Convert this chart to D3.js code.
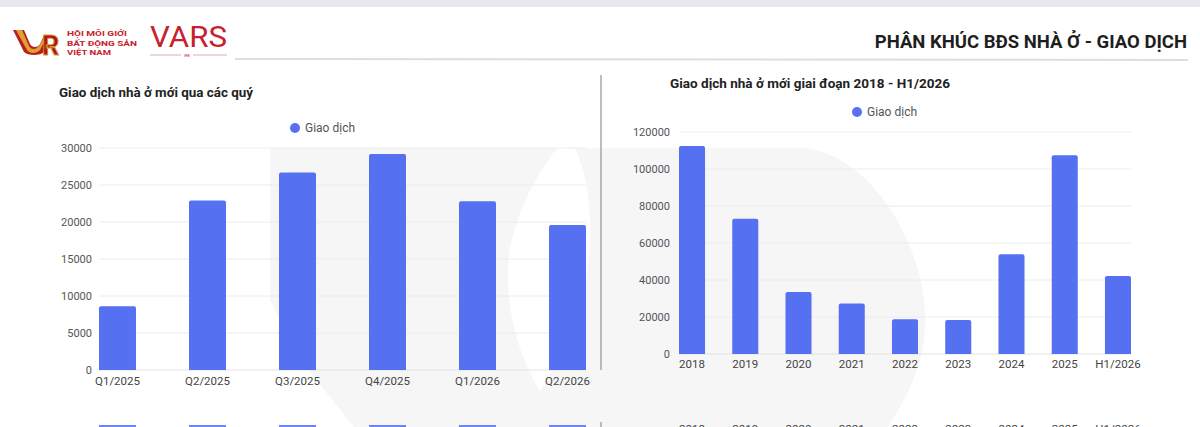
<!DOCTYPE html>
<html lang="vi">
  <head>
    <meta charset="utf-8" />
    <title>Phân khúc BĐS nhà ở - Giao dịch</title>
    <script src="https://d3js.org/d3.v7.min.js"></script>
    <style>
      body {
        margin: 0;
        background: #fff;
      }
      svg {
        display: block;
        font-family: Roboto, "Noto Sans", sans-serif;
      }
      .tick-label {
        font-size: 11px;
        fill: #555;
      }
      .cat-label {
        font-size: 11.5px;
        fill: #444;
      }
      .chart-title {
        font-size: 13px;
        font-weight: bold;
        fill: #222;
      }
      .legend-text {
        font-size: 12px;
        fill: #555;
      }
    </style>
  </head>
  <body>
    <svg width="1200" height="427"></svg>
    <script>
      // quarterly new-home transactions
      const quarters = ["Q1/2025", "Q2/2025", "Q3/2025", "Q4/2025", "Q1/2026", "Q2/2026"];
      const quarterValues = [8600, 22900, 26700, 29200, 22800, 19600];
      const quarterTicks = [0, 5000, 10000, 15000, 20000, 25000, 30000];

      // yearly new-home transactions
      const years = ["2018", "2019", "2020", "2021", "2022", "2023", "2024", "2025", "H1/2026"];
      const yearValues = [112500, 73100, 33500, 27300, 18800, 18400, 53900, 107500, 42200];
      const yearTicks = [0, 20000, 40000, 60000, 80000, 100000, 120000];

      const seriesName = "Giao dịch";
      const barColor = "#5670f2";

      const svg = d3.select("svg");

      // faint watermark in the background
      svg
        .append("path")
        .attr(
          "d",
          "M270,148 L800,148 C870,150 930,250 925,330 C922,370 905,400 888,427 L354,427 L300,360 L270,300 Z"
        )
        .attr("fill", "#f6f6f7");
      svg
        .append("path")
        .attr("d", "M557,148 C525,190 505,240 508,285 C510,330 525,365 540,392 C560,360 585,300 590,250 C592,200 585,170 575,148 Z")
        .attr("fill", "#ffffff");

      // top strip
      svg.append("rect").attr("x", 0).attr("y", 0).attr("width", 1200).attr("height", 7).attr("fill", "#e8e8ec");

      // logo
      const logo = svg.append("g");
      logo
        .append("path")
        .attr("d", "M13,30 L24,30 L30,44 C32,48 38,48 40,44 L44,36 L44,52 C40,56 28,56 24,52 Z")
        .attr("fill", "#b8201f");
      logo
        .append("path")
        .attr("d", "M16,30 L22,30 L29,46 C31,50 36,50 39,46 L44,38 L44,42 L40,50 C36,54 30,54 27,50 Z")
        .attr("fill", "#e0a030");
      logo
        .append("text")
        .attr("x", 42)
        .attr("y", 55)
        .text("R")
        .attr("font-size", "27px")
        .attr("font-weight", "bold")
        .attr("fill", "#a8181c")
        .attr("stroke", "#d89a2a")
        .attr("stroke-width", 0.8);
      const assocLines = [
        ["HỘI MÔI GIỚI", 60],
        ["BẤT ĐỘNG SẢN", 70],
        ["VIỆT NAM", 44],
      ];
      assocLines.forEach(([t, w], i) => {
        logo
          .append("text")
          .attr("x", 67)
          .attr("y", 36 + i * 9.5)
          .text(t)
          .attr("font-size", "7.5px")
          .attr("font-weight", "bold")
          .attr("textLength", w)
          .attr("lengthAdjust", "spacingAndGlyphs")
          .attr("fill", "#c4222c");
      });
      logo
        .append("text")
        .attr("x", 150)
        .attr("y", 47)
        .text("VARS")
        .attr("font-size", "29px")
        .attr("textLength", 77)
        .attr("lengthAdjust", "spacingAndGlyphs")
        .attr("fill", "#c8202f");
      logo.append("line").attr("x1", 150).attr("x2", 181).attr("y1", 55).attr("y2", 55).attr("stroke", "#c8a0a0").attr("stroke-width", 0.8);
      logo.append("line").attr("x1", 193).attr("x2", 227).attr("y1", 55).attr("y2", 55).attr("stroke", "#c8a0a0").attr("stroke-width", 0.8);
      logo
        .append("text")
        .attr("x", 187)
        .attr("y", 57)
        .attr("text-anchor", "middle")
        .text("IRE")
        .attr("font-size", "4px")
        .attr("fill", "#c8202f");

      // header title and rule
      svg
        .append("text")
        .attr("x", 1187)
        .attr("y", 48)
        .attr("text-anchor", "end")
        .text("PHÂN KHÚC BĐS NHÀ Ở - GIAO DỊCH")
        .attr("font-size", "18.5px")
        .attr("font-weight", "bold")
        .attr("fill", "#1e1e1e");
      svg
        .append("line")
        .attr("x1", 235)
        .attr("x2", 1188)
        .attr("y1", 59)
        .attr("y2", 60)
        .attr("stroke", "#dedede")
        .attr("stroke-width", 2);

      // divider between the two charts
      svg.append("line").attr("x1", 601).attr("x2", 601).attr("y1", 75).attr("y2", 370).attr("stroke", "#9a9a9a").attr("stroke-width", 1.3);
      svg.append("line").attr("x1", 601).attr("x2", 601).attr("y1", 422).attr("y2", 427).attr("stroke", "#9a9a9a").attr("stroke-width", 1.3);

      function barPath(x, y, w, h, r) {
        return `M${x},${y + h} V${y + r} Q${x},${y} ${x + r},${y} H${x + w - r} Q${x + w},${y} ${x + w},${y + r} V${y + h} Z`;
      }

      function drawChart(opts) {
        const g = svg.append("g");
        const x = d3.scaleBand().domain(opts.cats).range(opts.xRange).paddingInner(opts.padIn).paddingOuter(0);
        const y = d3.scaleLinear().domain([0, d3.max(opts.ticks)]).range(opts.yRange);

        // gridlines
        g.append("g")
          .selectAll("line")
          .data(opts.ticks)
          .join("line")
          .attr("x1", opts.xRange[0])
          .attr("x2", opts.xRange[1])
          .attr("y1", (d) => y(d))
          .attr("y2", (d) => y(d))
          .attr("stroke", (d) => (d === 0 ? "#e2e2e2" : "#ececec"))
          .attr("stroke-width", 1);

        // y tick labels
        g.append("g")
          .selectAll("text")
          .data(opts.ticks)
          .join("text")
          .attr("class", "tick-label")
          .attr("x", opts.labelX)
          .attr("y", (d) => y(d) + 4)
          .attr("text-anchor", "end")
          .text((d) => d);

        // bars
        g.append("g")
          .selectAll("path")
          .data(opts.values)
          .join("path")
          .attr("d", (d, i) => barPath(x(opts.cats[i]), y(d), x.bandwidth(), y(0) - y(d), 2))
          .attr("fill", barColor);

        // category labels
        g.append("g")
          .selectAll("text")
          .data(opts.cats)
          .join("text")
          .attr("class", "cat-label")
          .attr("x", (d) => x(d) + x.bandwidth() / 2)
          .attr("y", y(0) + opts.catDy)
          .attr("text-anchor", "middle")
          .text((d) => d);

        // title
        g.append("text")
          .attr("class", "chart-title")
          .attr("x", opts.titleX)
          .attr("y", opts.titleY)
          .attr("textLength", opts.titleW)
          .attr("lengthAdjust", "spacingAndGlyphs")
          .text(opts.title);

        // legend
        g.append("circle").attr("cx", opts.legendX).attr("cy", opts.legendY).attr("r", 5).attr("fill", barColor);
        g.append("text")
          .attr("class", "legend-text")
          .attr("x", opts.legendX + 10)
          .attr("y", opts.legendY + 4)
          .text(seriesName);

        return x;
      }

      const xq = drawChart({
        cats: quarters,
        values: quarterValues,
        ticks: quarterTicks,
        xRange: [99, 586],
        padIn: 0.589,
        yRange: [370, 148],
        labelX: 92,
        catDy: 15,
        title: "Giao dịch nhà ở mới qua các quý",
        titleX: 59,
        titleY: 97,
        titleW: 194,
        legendX: 295,
        legendY: 128,
      });

      const xy = drawChart({
        cats: years,
        values: yearValues,
        ticks: yearTicks,
        xRange: [679, 1131],
        padIn: 0.511,
        yRange: [354, 132],
        labelX: 670,
        catDy: 14,
        title: "Giao dịch nhà ở mới giai đoạn 2018 - H1/2026",
        titleX: 670,
        titleY: 88,
        titleW: 280,
        legendX: 857,
        legendY: 112,
      });

      // next slide peeking in at the bottom edge
      svg
        .append("g")
        .selectAll("rect")
        .data(quarters)
        .join("rect")
        .attr("x", (d) => xq(d))
        .attr("y", 425)
        .attr("width", xq.bandwidth())
        .attr("height", 6)
        .attr("fill", barColor)
        .attr("opacity", 0.85);
      svg
        .append("g")
        .selectAll("text")
        .data(years)
        .join("text")
        .attr("class", "cat-label")
        .attr("x", (d) => xy(d) + xy.bandwidth() / 2)
        .attr("y", 433)
        .attr("text-anchor", "middle")
        .text((d) => d);
    </script>
  </body>
</html>
